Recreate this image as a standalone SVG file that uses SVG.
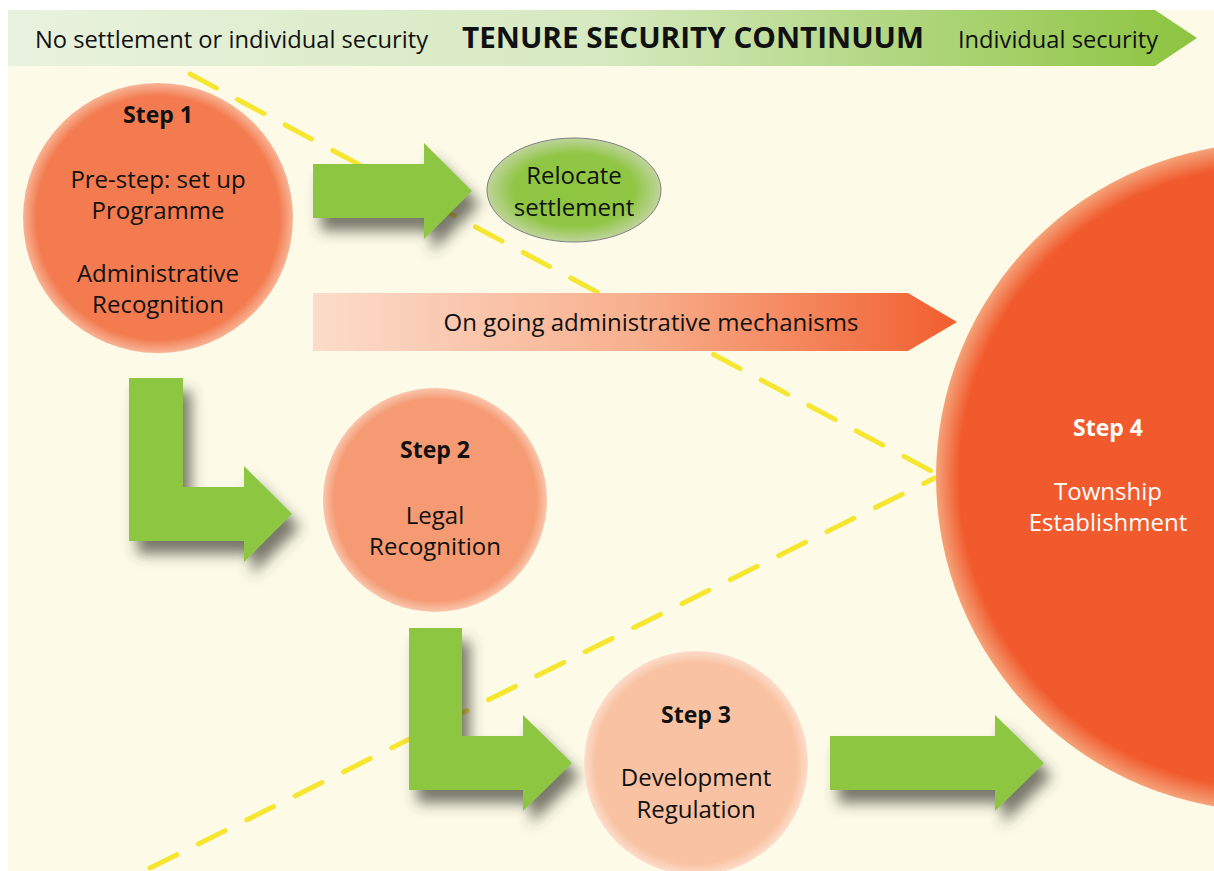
<svg xmlns="http://www.w3.org/2000/svg" width="1214" height="871" viewBox="0 0 1214 871">
<defs>
<linearGradient id="banner" x1="0" y1="0" x2="1" y2="0">
<stop offset="0" stop-color="#E9F2DE"/><stop offset="0.5" stop-color="#D6E9C0"/><stop offset="1" stop-color="#8CC43F"/>
</linearGradient>
<linearGradient id="bar" x1="0" y1="0" x2="1" y2="0">
<stop offset="0" stop-color="#FCDCCB"/><stop offset="0.5" stop-color="#F8B08E"/><stop offset="1" stop-color="#F15E2E"/>
</linearGradient>
<radialGradient id="g1"><stop offset="0" stop-color="#F37B4F"/><stop offset="0.9" stop-color="#F37B4F"/><stop offset="1" stop-color="#F8B496"/></radialGradient>
<radialGradient id="g2"><stop offset="0" stop-color="#F59A72"/><stop offset="0.9" stop-color="#F59A72"/><stop offset="1" stop-color="#FAC6AD"/></radialGradient>
<radialGradient id="g3"><stop offset="0" stop-color="#F9C3A3"/><stop offset="0.9" stop-color="#F9C3A3"/><stop offset="1" stop-color="#FCDDCB"/></radialGradient>
<radialGradient id="g4"><stop offset="0" stop-color="#F15A2C"/><stop offset="0.93" stop-color="#F15A2C"/><stop offset="1" stop-color="#F5A37A"/></radialGradient>
<radialGradient id="gr"><stop offset="0" stop-color="#8DC63F"/><stop offset="0.7" stop-color="#90C645"/><stop offset="1" stop-color="#BFD49C"/></radialGradient>
<filter id="shadow" x="-30%" y="-30%" width="170%" height="170%">
<feDropShadow dx="8" dy="13" stdDeviation="7" flood-color="#3f3f30" flood-opacity="0.7"/>
</filter>
</defs>
<style>
.t{font-family:"Open Sans","Noto Sans","Liberation Sans",sans-serif;font-size:24px;fill:#111;text-anchor:middle}
.b{font-weight:bold;font-size:23px}
.w{fill:#fff}
.dash{fill:none;stroke:#F5E631;stroke-width:5;stroke-dasharray:30 24;stroke-linecap:round}
.ga{fill:#8DC63F;filter:url(#shadow)}
.bt{font-family:"Open Sans","Noto Sans","Liberation Sans",sans-serif;fill:#111}
</style>
<rect x="0" y="0" width="1214" height="871" fill="#FFFFFF"/>
<rect x="8" y="10" width="1206" height="861" fill="#FDFBE7"/>
<g id="banner-arrow">
<polygon points="8,10 1155,10 1197,38 1155,66 8,66" fill="url(#banner)"/>
<text class="bt" x="35" y="48" font-size="24" textLength="393" lengthAdjust="spacingAndGlyphs">No settlement or individual security</text>
<text class="bt" x="462" y="48" font-size="29" font-weight="bold" textLength="462" lengthAdjust="spacingAndGlyphs">TENURE SECURITY CONTINUUM</text>
<text class="bt" x="958" y="48" font-size="24" textLength="200" lengthAdjust="spacingAndGlyphs">Individual security</text>
</g>
<g id="connectors">
<line class="dash" x1="190" y1="74" x2="935" y2="473"/>
<line class="dash" x1="150" y1="868" x2="935" y2="478"/>
<polygon id="arrow-relocate" class="ga" points="313,164 424,164 424,143 472,191 424,239 424,218 313,218"/>
<polygon id="arrow-step2" class="ga" points="129,378 183,378 183,487 244,487 244,466 292,514 244,562 244,541 129,541"/>
<polygon id="arrow-step3" class="ga" points="409,628 462,628 462,736 523,736 523,715 572,763 523,811 523,790 409,790"/>
<polygon id="arrow-step4" class="ga" points="830,736 995,736 995,715 1044,763 995,811 995,790 830,790"/>
</g>
<g id="ongoing">
<polygon points="313,293 908,293 957,322 908,351 313,351" fill="url(#bar)"/>
<text class="t" x="651" y="331">On going administrative mechanisms</text>
</g>
<g id="step1">
<circle cx="158" cy="218" r="135" fill="url(#g1)"/>
<text class="t b" x="158" y="123">Step 1</text>
<text class="t" x="158" y="188">Pre-step: set up</text>
<text class="t" x="158" y="219">Programme</text>
<text class="t" x="158" y="282">Administrative</text>
<text class="t" x="158" y="313">Recognition</text>
</g>
<g id="relocate">
<ellipse cx="574" cy="190" rx="87" ry="52" fill="url(#gr)" stroke="#808080" stroke-width="1"/>
<text class="t" x="574" y="184">Relocate</text>
<text class="t" x="574" y="216">settlement</text>
</g>
<g id="step2">
<circle cx="435" cy="500" r="112" fill="url(#g2)"/>
<text class="t b" x="435" y="458">Step 2</text>
<text class="t" x="435" y="524">Legal</text>
<text class="t" x="435" y="555">Recognition</text>
</g>
<g id="step3">
<circle cx="696" cy="763" r="112" fill="url(#g3)"/>
<text class="t b" x="696" y="723">Step 3</text>
<text class="t" x="696" y="786">Development</text>
<text class="t" x="696" y="818">Regulation</text>
</g>
<g id="step4">
<circle cx="1270" cy="477" r="334" fill="url(#g4)"/>
<text class="t b w" x="1108" y="436">Step 4</text>
<text class="t w" x="1108" y="500">Township</text>
<text class="t w" x="1108" y="531">Establishment</text>
</g>
</svg>
